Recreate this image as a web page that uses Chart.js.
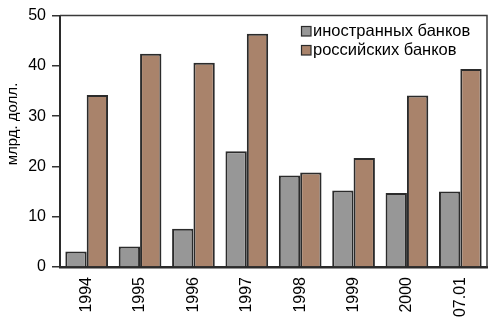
<!DOCTYPE html>
<html><head><meta charset="utf-8">
<script src="https://cdn.jsdelivr.net/npm/chart.js@4"></script>
<style>html,body{margin:0;padding:0;background:#fff}#wrap{width:500px;height:329px}</style>
</head><body><div id="wrap"><canvas id="c" width="500" height="329"></canvas></div>
<script>
const categories = ['1994', '1995', '1996', '1997', '1998', '1999', '2000', '07.01'];
const foreignBanks = [3.1, 4.1, 7.6, 23.0, 18.2, 15.2, 14.7, 15.0];
const russianBanks = [34.2, 42.4, 40.6, 46.4, 18.8, 21.7, 34.1, 39.4];
const yTicks = [0, 10, 20, 30, 40, 50];
const seriesNames = ['иностранных банков', 'российских банков'];
const axisTitle = 'млрд. долл.';

const FONT = '"Liberation Sans", Arial, sans-serif';
const colors = ['#979797', '#a9836b'];
const edge = '#2b2b2b';

// Top and right sides of the plot frame
const framePlugin = {
  id: 'frame',
  afterDatasetsDraw(chart) {
    const { ctx, chartArea: a } = chart;
    ctx.save();
    ctx.strokeStyle = '#3a3a3a';
    ctx.lineWidth = 1.5;
    ctx.beginPath();
    ctx.moveTo(a.left, a.top);
    ctx.lineTo(a.right, a.top);
    ctx.lineTo(a.right, a.bottom);
    ctx.stroke();
    ctx.restore();
  }
};

// Legend in the upper right of the plot and rotated axis title
const labelsPlugin = {
  id: 'labels',
  afterDraw(chart) {
    const { ctx } = chart;
    ctx.save();
    ctx.font = '16.5px ' + FONT;
    ctx.textBaseline = 'middle';
    ctx.textAlign = 'left';
    chart.data.datasets.forEach((ds, i) => {
      const y = 31 + i * 19;
      ctx.fillStyle = ds.backgroundColor;
      ctx.fillRect(301, y - 5, 10, 10);
      ctx.strokeStyle = edge;
      ctx.lineWidth = 1.2;
      ctx.strokeRect(301.5, y - 4.5, 9.5, 9.5);
      ctx.fillStyle = '#000';
      ctx.fillText(ds.label, 313, y + 0.5);
    });
    ctx.translate(13, 124);
    ctx.rotate(-Math.PI / 2);
    ctx.textAlign = 'center';
    ctx.font = '15px ' + FONT;
    ctx.fillText(axisTitle, 0, 0);
    ctx.restore();
  }
};

new Chart(document.getElementById('c'), {
  type: 'bar',
  data: {
    labels: categories,
    datasets: [
      { label: seriesNames[0], data: foreignBanks, backgroundColor: colors[0] },
      { label: seriesNames[1], data: russianBanks, backgroundColor: colors[1] }
    ]
  },
  options: {
    responsive: false,
    animation: false,
    devicePixelRatio: 1,
    layout: { padding: { left: 0, top: 14, right: 13, bottom: 0 } },
    datasets: {
      bar: { categoryPercentage: 0.8, barPercentage: 1.0, borderWidth: 2, borderColor: edge }
    },
    plugins: { legend: { display: false }, tooltip: { enabled: false } },
    scales: {
      x: {
        grid: { display: false, drawTicks: false },
        border: { color: '#2b2b2b', width: 2.5 },
        ticks: { minRotation: 90, maxRotation: 90, padding: 10, color: '#000', font: { size: 16, family: FONT } },
        afterFit(s) { s.height = 62; }
      },
      y: {
        min: 0, max: 50,
        afterBuildTicks(s) { s.ticks = yTicks.map(v => ({ value: v })); },
        grid: { drawOnChartArea: false, tickLength: 8, color: '#333', lineWidth: 1.5 },
        border: { color: '#2b2b2b', width: 2 },
        ticks: { padding: 6, color: '#000', font: { size: 16, family: FONT } },
        afterFit(s) { s.width = 60; }
      }
    }
  },
  plugins: [framePlugin, labelsPlugin]
});
</script></body></html>
